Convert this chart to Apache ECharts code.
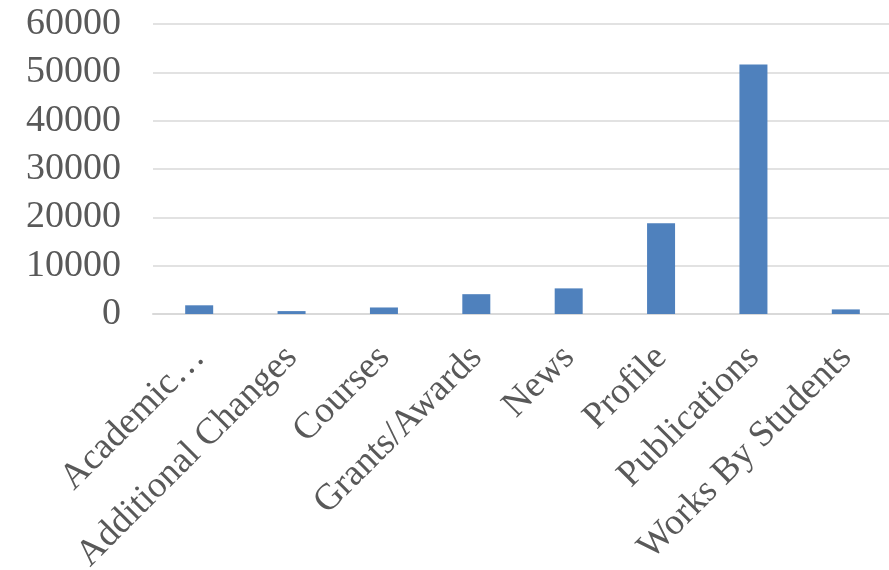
<!DOCTYPE html>
<html>
<head>
<meta charset="utf-8">
<script src="https://cdn.jsdelivr.net/npm/echarts@6/dist/echarts.min.js"></script>
<style>
    html, body { margin: 0; padding: 0; background: #ffffff; }
    #chart { width: 889px; height: 570px; }
</style>
</head>
<body>
<div id="chart"></div>
<script>
    var categories = ['Academic\u2026', 'Additional Changes', 'Courses', 'Grants/Awards', 'News', 'Profile', 'Publications', 'Works By Students'];
    var counts = [1800, 600, 1350, 4100, 5300, 18800, 51600, 950];
    var yTicks = [0, 10000, 20000, 30000, 40000, 50000, 60000];

    var textColor = '#595959';
    var fontFamily = '"Liberation Serif", "DejaVu Serif", serif';

    var myChart = echarts.init(document.getElementById('chart'));
    var option = {
        backgroundColor: '#ffffff',
        animation: false,
        grid: {
            left: 153,
            top: 24,
            width: 739,
            height: 290,
            containLabel: false,
            outerBoundsMode: 'none'
        },
        xAxis: {
            type: 'category',
            data: categories,
            axisLine: { show: true, lineStyle: { color: '#d9d9d9', width: 2 } },
            axisTick: { show: false },
            axisLabel: {
                interval: 0,
                rotate: 45,
                margin: 38,
                verticalAlign: 'middle',
                color: textColor,
                fontFamily: fontFamily,
                fontSize: 37
            }
        },
        yAxis: {
            type: 'value',
            min: yTicks[0],
            max: yTicks[yTicks.length - 1],
            interval: 10000,
            axisLine: { show: false },
            axisTick: { show: false },
            splitLine: { lineStyle: { color: '#d9d9d9', width: 1.5 } },
            axisLabel: {
                margin: 32,
                color: textColor,
                fontFamily: fontFamily,
                fontSize: 38,
                formatter: function (v) { return String(v); }
            }
        },
        series: [{
            type: 'bar',
            data: counts,
            barWidth: 28,
            itemStyle: { color: '#4F81BD' }
        }]
    };
    myChart.setOption(option);
</script>
</body>
</html>
